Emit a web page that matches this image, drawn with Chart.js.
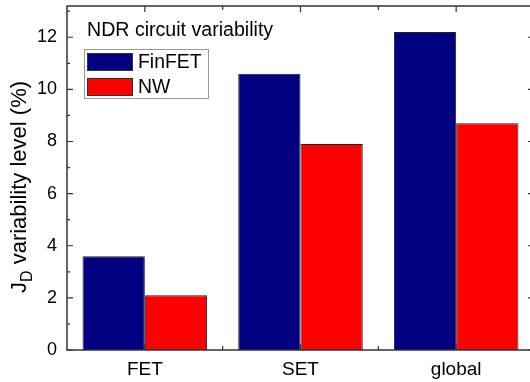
<!DOCTYPE html>
<html>
<head>
<meta charset="utf-8">
<script src="https://cdn.jsdelivr.net/npm/chart.js@4/dist/chart.umd.min.js"></script>
<style>
html,body{margin:0;padding:0;overflow:hidden;background:#fff;width:530px;height:382px;}
canvas{display:block;}
</style>
</head>
<body>
<canvas id="c" width="540" height="382" style="width:540px;height:382px"></canvas>
<script>
const categories = ['FET', 'SET', 'global'];
const seriesLabels = ['FinFET', 'NW'];
const finfetValues = [3.6, 10.6, 12.2];
const nwValues = [2.1, 7.9, 8.7];
const yTickValues = [0, 2, 4, 6, 8, 10, 12];
const yMinorValues = [1, 3, 5, 7, 9, 11, 13];
const chartTitle = 'NDR circuit variability';
const yTitleMain = 'J';
const yTitleSub = 'D';
const yTitleRest = ' variability level (%)';

const FONT = '"Liberation Sans", Arial, sans-serif';
const colors = ['#000080', '#ff0000'];

const framePlugin = {
  id: 'frame',
  afterDraw(chart) {
    const ctx = chart.ctx;
    const a = chart.chartArea;
    const xs = chart.scales.x, ys = chart.scales.y;
    ctx.save();
    ctx.strokeStyle = '#333';
    ctx.lineWidth = 1.5;
    ctx.strokeRect(a.left, a.top, a.right - a.left, a.bottom - a.top);
    ctx.lineWidth = 1.2;
    ctx.beginPath();
    yTickValues.forEach(v => {
      const y = ys.getPixelForValue(v);
      ctx.moveTo(a.left, y); ctx.lineTo(a.left + 6, y);
      ctx.moveTo(a.right, y); ctx.lineTo(a.right - 6, y);
    });
    yMinorValues.forEach(v => {
      const y = ys.getPixelForValue(v);
      ctx.moveTo(a.left, y); ctx.lineTo(a.left + 3, y);
      ctx.moveTo(a.right, y); ctx.lineTo(a.right - 3, y);
    });
    for (let i = 0; i < categories.length; i++) {
      const x = xs.getPixelForValue(i);
      ctx.moveTo(x, a.top); ctx.lineTo(x, a.top + 6);
      ctx.moveTo(x, a.bottom); ctx.lineTo(x, a.bottom - 6);
      if (i < categories.length - 1) {
        const xm = (x + xs.getPixelForValue(i + 1)) / 2;
        ctx.moveTo(xm, a.top); ctx.lineTo(xm, a.top + 4);
        ctx.moveTo(xm, a.bottom); ctx.lineTo(xm, a.bottom - 4);
      }
    }
    ctx.stroke();

    ctx.fillStyle = '#000';
    ctx.font = '19.6px ' + FONT;
    ctx.textBaseline = 'middle';
    ctx.textAlign = 'left';
    ctx.fillText(chartTitle, a.left + 20, a.top + 25);

    const lx = a.left + 17, ly = a.top + 43, lw = 124, lh = 49;
    ctx.fillStyle = '#fff';
    ctx.fillRect(lx, ly, lw, lh);
    ctx.strokeStyle = '#999';
    ctx.lineWidth = 1;
    ctx.strokeRect(lx + 0.5, ly + 0.5, lw, lh);
    chart.data.datasets.forEach((ds, i) => {
      const sy = ly + 4 + i * 25;
      ctx.fillStyle = ds.backgroundColor;
      ctx.fillRect(lx + 3, sy, 46, 18);
      ctx.strokeStyle = '#333';
      ctx.strokeRect(lx + 3.5, sy + 0.5, 45, 17);
      ctx.fillStyle = '#000';
      ctx.font = '19.4px ' + FONT;
      ctx.fillText(ds.label, lx + 54, sy + 10);
    });

    ctx.save();
    const fMain = '22px ' + FONT, fSub = '16px ' + FONT;
    ctx.font = fMain;
    const wJ = ctx.measureText(yTitleMain).width;
    const wR = ctx.measureText(yTitleRest).width;
    ctx.font = fSub;
    const wD = ctx.measureText(yTitleSub).width;
    const total = wJ + wD + wR;
    const cy = (a.top + a.bottom) / 2 + 9;
    ctx.translate(26, cy);
    ctx.rotate(-Math.PI / 2);
    ctx.textBaseline = 'alphabetic';
    ctx.textAlign = 'left';
    ctx.fillStyle = '#000';
    let x0 = -total / 2;
    ctx.font = fMain;
    ctx.fillText(yTitleMain, x0, 0);
    ctx.font = fSub;
    ctx.fillText(yTitleSub, x0 + wJ, 6);
    ctx.font = fMain;
    ctx.fillText(yTitleRest, x0 + wJ + wD, 0);
    ctx.restore();

    ctx.restore();
  }
};

new Chart(document.getElementById('c'), {
  type: 'bar',
  data: {
    labels: categories,
    datasets: [
      { label: seriesLabels[0], data: finfetValues, backgroundColor: colors[0], borderColor: '#222', borderWidth: 1 },
      { label: seriesLabels[1], data: nwValues, backgroundColor: colors[1], borderColor: '#222', borderWidth: 1 }
    ]
  },
  options: {
    responsive: false,
    animation: false,
    devicePixelRatio: 1,
    layout: { padding: { top: 6, right: 6, left: 0, bottom: 0 } },
    datasets: { bar: { categoryPercentage: 0.8, barPercentage: 1.0 } },
    plugins: { legend: { display: false }, tooltip: { enabled: false }, title: { display: false } },
    scales: {
      x: {
        grid: { display: false },
        border: { display: false },
        ticks: { color: '#000', font: { family: FONT, size: 19 }, padding: 0 },
        afterFit(s) { s.height = 32; s.paddingLeft = 0; s.paddingRight = 0; }
      },
      y: {
        min: 0, max: 13.2,
        grid: { display: false, drawTicks: false },
        border: { display: false },
        afterBuildTicks(s) { s.ticks = yTickValues.map(v => ({ value: v })); },
        ticks: { color: '#000', font: { family: FONT, size: 18 }, padding: 10 },
        afterFit(s) { s.width = 67; s.paddingTop = 0; s.paddingBottom = 0; }
      }
    }
  },
  plugins: [framePlugin]
});
</script>
</body>
</html>
